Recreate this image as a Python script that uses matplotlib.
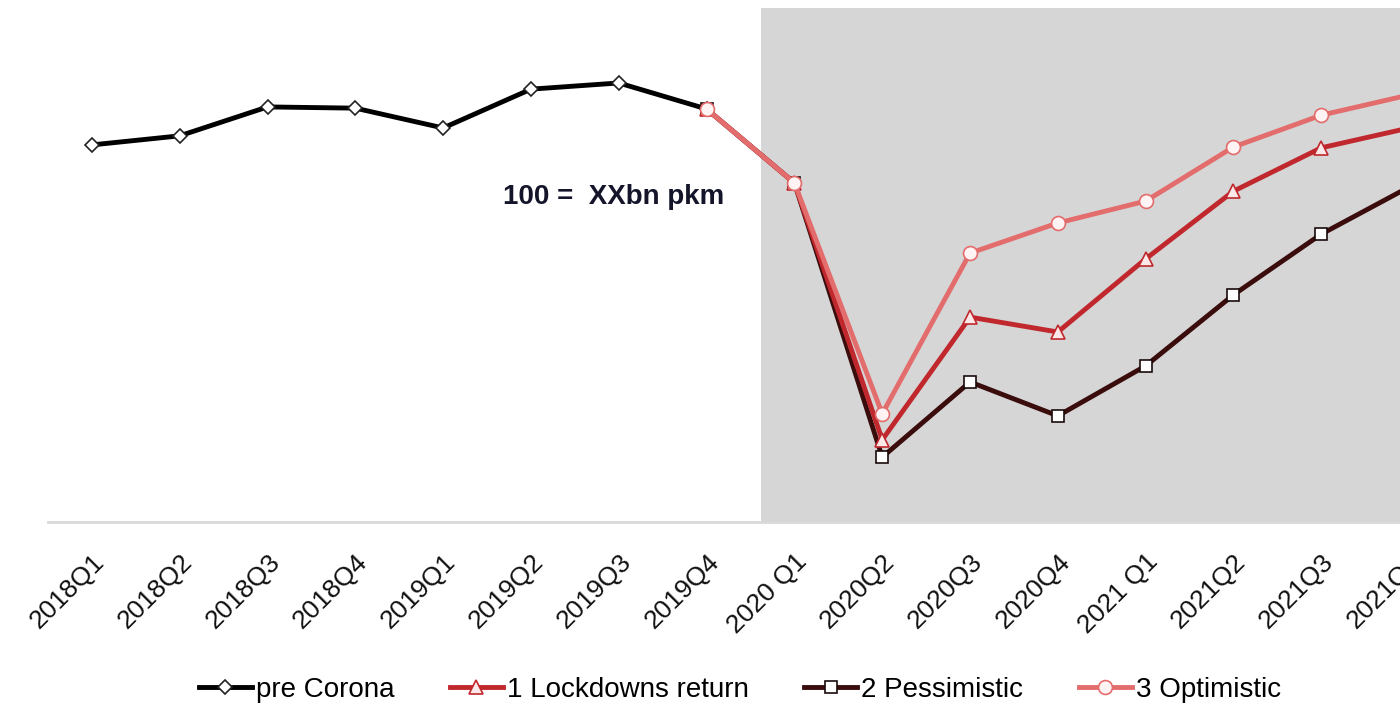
import matplotlib
matplotlib.use("Agg")
import matplotlib.pyplot as plt

plt.rcParams['font.family'] = ['Liberation Sans', 'DejaVu Sans']

quarters = ['2018Q1', '2018Q2', '2018Q3', '2018Q4', '2019Q1', '2019Q2', '2019Q3', '2019Q4',
            '2020 Q1', '2020Q2', '2020Q3', '2020Q4', '2021 Q1', '2021Q2', '2021Q3', '2021Q4']

pre_corona = [91.3, 93.5, 100.5, 100.2, 95.4, 104.8, 106.3, 100.0]
scenario_quarters = quarters[7:]
lockdowns_return = [100.0, 82.1, 19.9, 49.6, 46.0, 63.7, 80.1, 90.6, 95.4]
pessimistic = [100.0, 82.1, 15.7, 33.9, 25.7, 37.8, 55.0, 69.7, 81.1]
optimistic = [100.0, 82.1, 26.2, 65.1, 72.4, 77.7, 90.8, 98.5, 103.4]

labels = ['pre Corona', '1 Lockdowns return', '2 Pessimistic', '3 Optimistic']
annotation = '100 =  XXbn pkm'

c_pre = '#000000'
c_lock = '#C0282D'
c_pess = '#3A0C0C'
c_opt = '#E36C6C'

fig = plt.figure(figsize=(14, 7.07), dpi=100)
ax = fig.add_axes([48 / 1400, 1 - 522 / 707, 1405 / 1400, 514 / 707])

x_all = list(range(len(quarters)))
x_pre = x_all[:len(pre_corona)]
x_sc = x_all[7:7 + len(optimistic)]

ax.axvspan(7.62, len(quarters) + 1, color='#D6D6D6', zorder=0, lw=0)

lw = 3.5
ms = 9
h_pre, = ax.plot(x_pre, pre_corona, color=c_pre, lw=lw, marker='D', ms=7.5,
                 mfc='white', mec='#222222', mew=1.2, zorder=3, label=labels[0])
h_pess, = ax.plot(x_sc, pessimistic, color=c_pess, lw=lw, marker='s', ms=ms,
                  mfc='white', mec='#1a0a0a', mew=1.2, zorder=4, label=labels[2])
h_lock, = ax.plot(x_sc, lockdowns_return, color=c_lock, lw=lw, marker='^', ms=ms + 1,
                  mfc='#FBE9E9', mec=c_lock, mew=1.2, zorder=5, label=labels[1])
h_opt, = ax.plot(x_sc, optimistic, color=c_opt, lw=lw, marker='o', ms=ms + 1,
                 mfc='#FFF3F3', mec=c_opt, mew=1.2, zorder=6, label=labels[3])

ax.set_xlim(-0.5, len(quarters) - 0.5)
ax.set_ylim(0, 124.45)
ax.set_xticks(x_all)
ax.set_xticklabels(quarters, rotation=45, ha='right', rotation_mode='anchor',
                   fontsize=19, color='#111111')
ax.tick_params(axis='x', length=0, pad=20)
ax.set_yticks([])
for s in ['top', 'right', 'left']:
    ax.spines[s].set_visible(False)
ax.spines['bottom'].set_color('#D9D9D9')
ax.spines['bottom'].set_linewidth(2)
ax.patch.set_alpha(0)

fig.text(614 / 1400, 1 - 197 / 707, annotation, ha='center', va='center',
         fontsize=20, fontweight='bold', color='#14142a')

fig.legend(handles=[h_pre, h_lock, h_pess, h_opt], labels=labels, loc='center',
           bbox_to_anchor=(740 / 1400, 1 - 690 / 707), ncol=4, frameon=False,
           fontsize=20, handlelength=1.9, handletextpad=0.15, columnspacing=2.0)

fig.savefig('out.png', dpi=100)
